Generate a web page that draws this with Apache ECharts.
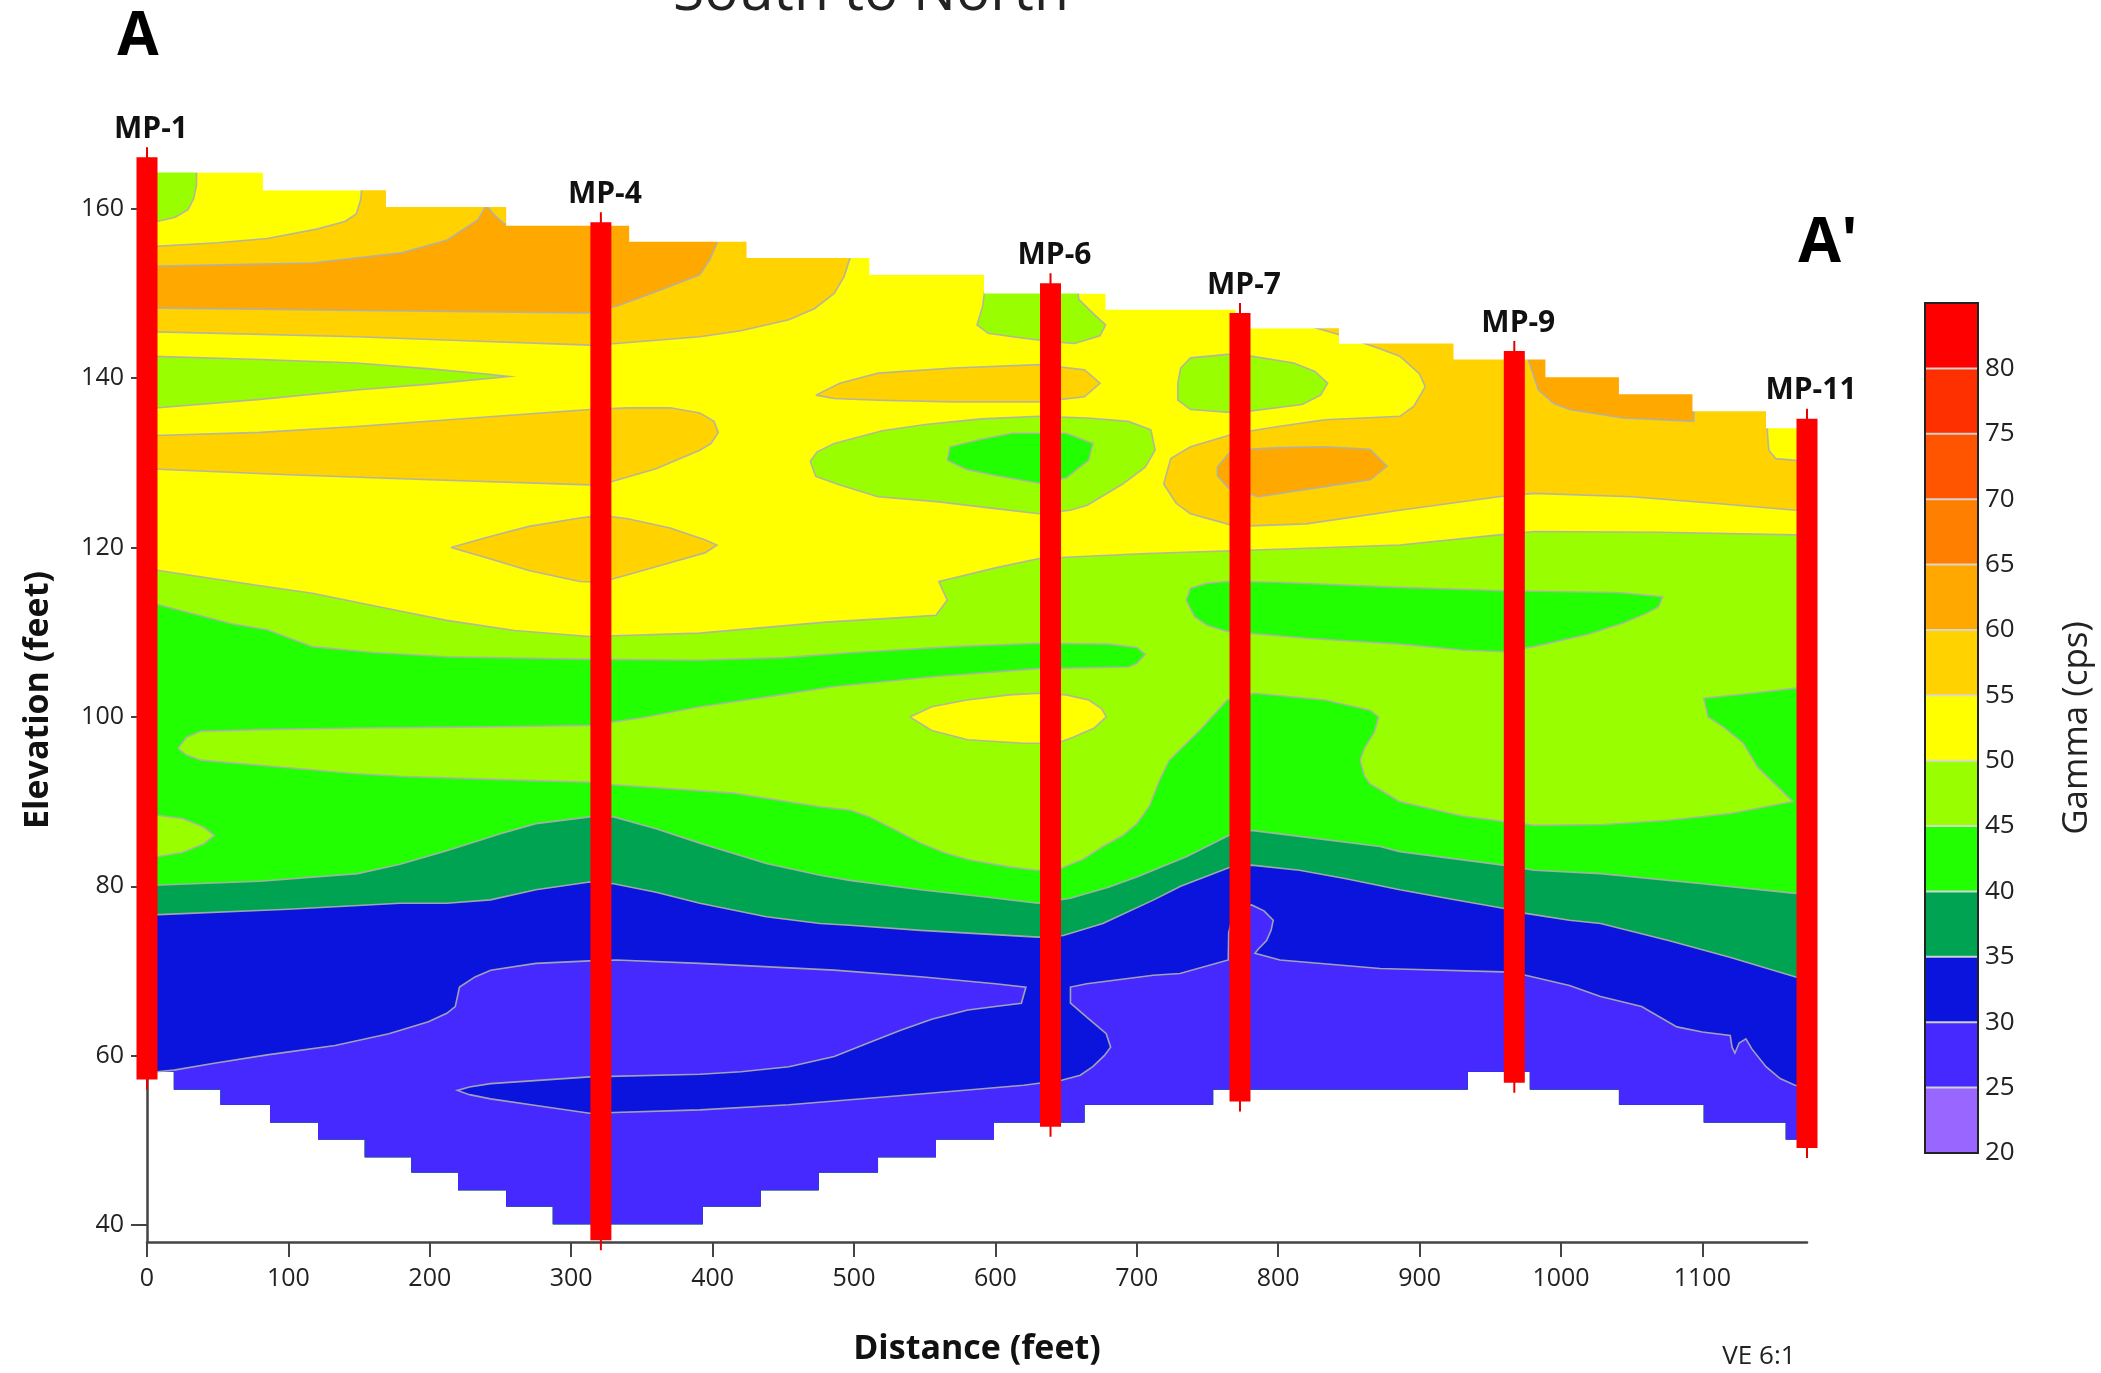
<!DOCTYPE html>
<html>
<head>
<meta charset="utf-8">
<title>Gamma cross-section A-A'</title>
<script src="https://cdn.jsdelivr.net/npm/echarts@6.0.0/dist/echarts.min.js"></script>
<style>
  html, body { margin: 0; padding: 0; background: #fff; }
  #chart { width: 2101px; height: 1373px; }
</style>
</head>
<body>
<div id="chart"></div>
<script>
// ---- axis ticks / legend ----
const xTicks = [0, 100, 200, 300, 400, 500, 600, 700, 800, 900, 1000, 1100];
const yTicks = [40, 60, 80, 100, 120, 140, 160];
const legendLevels = [20, 25, 30, 35, 40, 45, 50, 55, 60, 65, 70, 75, 80];
const bandColors = ['#9966ff', '#4529ff', '#0a14dc', '#00a352', '#22ff00', '#99ff00',
  '#ffff00', '#ffd200', '#ffa800', '#ff7f00', '#ff5500', '#ff3000', '#ff0000'];

// ---- monitoring points (distance ft, top / bottom elevation ft) ----
const wellNames = ['MP-1', 'MP-4', 'MP-6', 'MP-7', 'MP-9', 'MP-11'];
const wellX = [0, 321, 639, 773, 967, 1174];
const wellTop = [166.1, 158.4, 151.2, 147.7, 143.2, 135.2];
const wellBottom = [57.2, 38.2, 51.6, 54.6, 56.8, 49.1];

// ---- gridded section outline (stair steps) ----
const topEdges = [0, 82, 169, 254, 341, 424, 511, 592, 678, 770, 843, 924, 989, 1041, 1093, 1145, 1174];
const topLevels = [164.3, 162.2, 160.2, 158.0, 156.1, 154.2, 152.2, 150.0, 148.1, 145.9, 144.1, 142.2, 140.1, 138.1, 136.1, 134.1];
const bottomEdges = [0, 19, 52, 87, 121, 154, 187, 220, 254, 287, 393, 434, 475, 517, 558, 599, 663, 754, 934, 978, 1041, 1101, 1159, 1174];
const bottomLevels = [58.1, 56.0, 54.2, 52.1, 50.1, 48.0, 46.2, 44.1, 42.2, 40.1, 42.2, 44.1, 46.2, 48.0, 50.1, 52.1, 54.2, 56.0, 58.1, 56.0, 54.2, 52.1, 50.1];

// ---- contour lines [distance, elevation] ----
// upper (yellow / gold / orange) zone
const tlGreen = [[0,158.3],[7,158.5],[20,159.0],[29,159.9],[33,161.2],[35,162.8],[35,166]];
const goldUpperEdge = [[0,155.5],[50,156.0],[85,156.5],[120,157.6],[140,158.5],[148,159.4],[151,161.0],[152,162.6]];
const goldLowerEdge = [[498,154.6],[493,152.0],[486,150.0],[472,148.2],[454,146.9],[420,145.6],[391,144.9],[332,144.1],[313,143.9],[230,144.4],[148,144.9],[0,145.5]];
const orangeUpperEdge = [[0,153.2],[117,153.6],[180,154.8],[212,156.3],[234,158.7],[240,160.4],[246,159.2],[253,158.2],[254,158.2]];
const orangeLowerEdge = [[404,156.3],[398,154.0],[391,152.2],[360,150.2],[332,148.5],[312,147.7],[150,148.0],[0,148.3]];
const lens140 = [[0,142.6],[80,142.2],[148,141.8],[200,141.1],[240,140.5],[256,140.2],[200,139.3],[148,138.6],[80,137.5],[0,136.4]];
const goldBand130 = [[0,133.2],[80,133.6],[148,134.3],[230,135.3],[313,136.3],[340,136.5],[370,136.5],[391,135.9],[401,134.9],[404,133.6],[399,132.3],[391,131.5],[360,129.3],[329,127.8],[313,127.4],[200,128.0],[100,128.6],[0,129.3]];
const gold120 = [[215,120.0],[240,121.2],[270,122.5],[306,123.5],[321,123.8],[340,123.4],[370,122.3],[395,120.9],[403,120.3],[395,119.4],[370,118.2],[340,116.8],[321,115.9],[306,116.0],[270,117.3],[240,118.8]];
const gold140 = [[473,138.0],[490,139.4],[517,140.6],[570,141.2],[631,141.6],[663,141.0],[674,139.4],[663,137.8],[631,137.2],[570,137.2],[517,137.4],[486,137.6]];
const gyTopEdge = [[593,151],[591,148.5],[587,146.3],[595,145.3],[612,144.9],[640,144.3],[656,144.1],[674,145.0],[678,146.3],[670,147.5],[659,149.3],[658,151]];
const gy130 = [[469,130.2],[474,131.3],[486,132.3],[520,133.8],[549,134.5],[590,135.2],[631,135.5],[665,135.3],[694,134.9],[710,133.9],[713,131.5],[706,129.5],[690,127.5],[665,125.0],[653,124.4],[631,124.0],[600,124.6],[560,125.4],[517,126.0],[490,127.4],[473,128.4]];
const g130 = [[566,130.3],[568,131.9],[590,132.8],[612,133.5],[650,133.5],[669,132.3],[666,130.3],[650,128.2],[631,127.6],[600,128.5],[580,129.2]];
const goldREdge = [[805,147],[842,145.2],[870,143.6],[886,142.6],[900,140.5],[904,139.0],[896,136.7],[886,135.5],[860,135.3],[833,135.1],[800,134.3],[770,133.5],[738,131.9],[724,130.5],[719,127.5],[728,125.2],[738,124.0],[770,122.5],[820,122.8],[886,124.4],[956,126.0],[981,126.4],[1050,126.0],[1110,125.2],[1166,124.4],[1174,124.4]];
const orange130 = [[757,129.5],[767,131.5],[800,131.8],[833,131.9],[865,131.6],[877,129.6],[865,128.0],[833,127.2],[786,126.0],[765,127.0],[757,128.5]];
const orangeTREdge = [[975,143],[977.7,141.8],[984,138.6],[995,137.0],[1006,136.3],[1044,135.3],[1094,134.9],[1094,138.3]];
const yellowMP11Edge = [[1146,136],[1146,133.5],[1147,131.5],[1152,130.5],[1166,130.3],[1174,130.3]];
const gy140 = [[729,139.4],[731,141.2],[738,142.4],[770,142.9],[811,141.8],[826,140.8],[835,139.4],[830,138.0],[817,136.9],[770,135.9],[738,136.3],[729,137.4]];

// middle (green) zone
const b1 = [[0,117.5],[40,116.5],[80,115.5],[117,114.6],[170,112.8],[212,111.4],[260,110.2],[313,109.5],[391,109.9],[480,111.2],[530,111.7],[558,112.0],[566,113.8],[560,116.0],[600,117.6],[631,118.7],[707,119.3],[800,119.8],[886,120.3],[956,121.5],[981,121.9],[1070,121.8],[1166,121.5],[1174,121.5]];
const b2 = [[0,113.6],[30,112.3],[60,111.0],[85,110.3],[117,108.3],[160,107.6],[212,107.1],[313,106.8],[391,106.7],[450,107.0],[500,107.6],[570,108.3],[631,108.7],[680,108.6],[700,108.2],[706,107.4]];
const l1Top = [[700,106.3],[694,105.9],[631,105.7],[560,104.8],[486,103.6],[440,102.4],[391,101.2],[350,99.9],[313,99.0],[230,98.8],[150,98.7],[80,98.5],[38,98.3],[28,97.6],[22,96.3]];
const b2Low = [[22,96.3],[28,95.5],[38,94.9],[100,94.0],[148,93.3],[179,93.0],[250,92.6],[313,92.3],[330,92.0],[415,91.0],[476,89.4],[497,89.0],[511,88.2],[530,86.6],[547,85.1],[565,83.9],[582,83.1],[610,82.3],[629,81.9],[646,82.1],[662,83.2],[676,84.7],[690,86.0],[700,87.4],[709,89.5],[716,92.5],[723,94.9],[745,98.5],[764,102.0],[783,102.8],[833,102.0],[865,100.8],[871,100.0],[868,98.2],[861,96.3],[858,94.9],[861,93.0],[865,92.1],[875,91.1],[886,90.0],[930,88.3],[981,87.2],[1030,87.3],[1076,87.8],[1120,88.6],[1164,90.0],[1139,94.1],[1129,96.9],[1115,98.8],[1104,100.0],[1101,102.2],[1130,102.7],[1166,103.4],[1174,103.5]];
const green112 = [[735,113.8],[738,115.2],[750,115.8],[764,116.0],[800,115.9],[886,115.3],[960,114.9],[1040,114.7],[1072,114.2],[1069,113.0],[1060,112.2],[1044,111.1],[1020,109.8],[981,108.3],[959,107.7],[930,107.9],[886,108.6],[820,109.3],[764,110.1],[750,110.8],[741,111.8]];
const gy86 = [[0,88.5],[7,88.4],[25,88.0],[40,87.0],[47.5,86.0],[40,85.0],[25,84.0],[7,83.5],[0,83.4]];
const yellow100 = [[539.5,100.0],[555,101.2],[580,102.0],[610,102.6],[631,102.8],[650,102.6],[666,102.0],[675,101.0],[678.4,100.0],[670,98.7],[655,97.6],[643.7,96.9],[620,96.9],[580.5,97.3],[555,98.4]];

// lower (sea green / blue / violet) zone
const b3 = [[0,80.1],[80,80.6],[149,81.5],[179,82.6],[212,84.2],[250,86.2],[275,87.4],[313,88.2],[330,88.2],[360,86.8],[391,85.1],[438,82.7],[476,81.3],[497,80.7],[547,79.6],[590,78.8],[630,78.0],[653,78.6],[680,79.9],[700,81.1],[735,83.5],[765,86.0],[781,86.6],[815,85.9],[872,84.7],[886,84.1],[959,82.5],[981,81.9],[1028,81.5],[1100,80.3],[1164,79.2],[1174,79.1]];
const b4 = [[0,76.6],[100,77.3],[179,78.0],[212,78.0],[243,78.4],[275,79.6],[313,80.5],[330,80.3],[360,79.3],[391,78.0],[438,76.4],[476,75.6],[497,75.4],[547,74.8],[630,74.0],[648,74.2],[676,75.6],[712,78.4],[731,80.0],[765,82.2],[781,82.5],[815,81.9],[848,80.9],[886,79.6],[919,78.6],[959,77.4],[975,76.8],[1006,76.0],[1028,75.6],[1076,73.6],[1120,71.6],[1166,69.3],[1174,69.2]];
const b5 = [[0,58.0],[7,58.1],[19,58.3],[47.5,59.1],[85,60.1],[133,61.2],[171,62.6],[199,64.0],[212,65.0],[218,65.8],[221,68.1],[232,69.3],[243,70.1],[275,70.9],[313,71.2],[332,71.3],[391,70.9],[486,70.1],[549,69.3],[600,68.5],[621.6,68.1],[618.4,66.2],[600,65.8],[580.5,65.4],[555,64.3],[533,63.0],[510,61.5],[486,59.9],[454,58.7],[420,58.1],[391,57.8],[313,57.5],[243,56.7],[228,56.3],[219.6,55.9],[228,55.4],[243,54.9],[280,54.0],[313,53.2],[391,53.6],[454,54.2],[549,55.5],[620,56.5],[646.8,57.1],[660,57.7],[668.9,58.7],[677,60.0],[681.5,61.0],[678.4,62.6],[665,64.5],[653.1,66.2],[653.1,68.1],[664.6,68.5],[711.7,69.5],[730.5,69.7],[764.7,71.3],[765,74.5],[768,76.6],[775,77.6],[781.2,77.8],[790,77.1],[796.5,76.0],[795,74.8],[791.8,73.6],[786,72.6],[783.6,72.1],[801.3,71.3],[872,70.3],[959,69.9],[975,69.5],[1006,68.3],[1028,67.0],[1057,65.8],[1082,63.4],[1100,62.8],[1119.7,62.4],[1121,61.0],[1123,60.3],[1126,61.5],[1130.8,62.0],[1135,60.8],[1145,58.7],[1155,57.3],[1165.5,56.5],[1174,56.3]];

// ---- geometry built from the arrays above ----
function stairs(edges, levels) {
  const pts = [];
  levels.forEach((v, i) => { pts.push([edges[i], v], [edges[i + 1], v]); });
  return pts;
}
const topLine = stairs(topEdges, topLevels);
const bottomBack = stairs(bottomEdges, bottomLevels).reverse();
const closed = (pts) => pts.concat([pts[0]]);
const above = 170;

const fills = [
  { band: 50, pts: topLine.concat(bottomBack) },
  { band: 55, pts: goldUpperEdge.concat([[152, above], [498, above]], goldLowerEdge) },
  { band: 60, pts: orangeUpperEdge.concat([[255, above], [404, above]], orangeLowerEdge) },
  { band: 45, pts: tlGreen.concat([[0, above]]) },
  { band: 45, pts: lens140 },
  { band: 55, pts: goldBand130 },
  { band: 55, pts: gold120 },
  { band: 55, pts: gold140 },
  { band: 45, pts: gyTopEdge },
  { band: 45, pts: gy130 },
  { band: 40, pts: g130 },
  { band: 55, pts: goldREdge.concat([[1174, above], [805, above]]) },
  { band: 60, pts: orange130 },
  { band: 60, pts: orangeTREdge.concat([[1094, above], [975, above]]) },
  { band: 50, pts: yellowMP11Edge.concat([[1174, 136]]) },
  { band: 45, pts: gy140 },
  { band: 45, pts: b1.concat(bottomBack) },
  { band: 40, pts: green112 },
  { band: 40, pts: b2.concat(l1Top, b2Low.slice(1), bottomBack) },
  { band: 45, pts: gy86 },
  { band: 50, pts: yellow100 },
  { band: 35, pts: b3.concat(bottomBack) },
  { band: 30, pts: b4.concat(bottomBack) },
  { band: 25, pts: b5.concat(bottomBack) }
];

const contours = [
  tlGreen, goldUpperEdge, goldLowerEdge, orangeUpperEdge, orangeLowerEdge,
  closed(lens140), closed(goldBand130), closed(gold120), closed(gold140), gyTopEdge,
  closed(gy130), closed(g130), goldREdge, closed(orange130), orangeTREdge, yellowMP11Edge,
  closed(gy140), b1, b2.concat(l1Top), b2Low, closed(green112), closed(gy86),
  closed(yellow100), b3, b4, b5
];

// white cover above the ground surface (reaches higher than any fill)
const mask = topLine.concat([[1174, above + 8], [0, above + 8]]);

const colorOf = (band) => bandColors[legendLevels.indexOf(band)];

const chart = echarts.init(document.getElementById('chart'));

const option = {
  animation: false,
  backgroundColor: '#fff',
  textStyle: { fontFamily: '"Open Sans", "DejaVu Sans", sans-serif' },
  graphic: [
    { type: 'text', x: 871, y: -6, z: 10, style: { text: 'South to North', font: '57px "Open Sans"', fill: '#222', align: 'center', verticalAlign: 'middle' } },
    { type: 'text', x: 138, y: 38, z: 10, style: { text: 'A', font: 'bold 60px "Open Sans"', fill: '#000', align: 'center', verticalAlign: 'middle' } },
    { type: 'text', x: 1828, y: 244, z: 10, style: { text: "A'", font: 'bold 62px "Open Sans"', fill: '#000', align: 'center', verticalAlign: 'middle' } },
    { type: 'text', x: 1759, y: 1357, z: 10, style: { text: 'VE 6:1', font: '26px "Open Sans"', fill: '#222', align: 'center', verticalAlign: 'middle' } }
  ],
  grid: [
    { left: 147, top: 158, width: 1660, height: 1084, outerBoundsMode: 'none' },
    { left: 1925, top: 303, width: 53, height: 850, outerBoundsMode: 'none' }
  ],
  xAxis: [
    {
      type: 'value', gridIndex: 0, min: 0, max: 1174, z: 3,
      axisLine: { onZero: false, lineStyle: { color: '#444', width: 2.5 } },
      axisTick: { show: true, length: 15, customValues: xTicks, lineStyle: { color: '#444', width: 2 } },
      axisLabel: { customValues: xTicks, fontSize: 25, color: '#222', margin: 24, formatter: (v) => String(v) },
      splitLine: { show: false },
      name: 'Distance (feet)', nameLocation: 'middle', nameGap: 90,
      nameTextStyle: { fontSize: 34, fontWeight: 'bold', color: '#111' }
    },
    { type: 'value', gridIndex: 1, min: 0, max: 1, show: false }
  ],
  yAxis: [
    {
      type: 'value', gridIndex: 0, min: 38, max: 166, z: 3,
      axisLine: { show: true, onZero: false, lineStyle: { color: '#444', width: 2.5 } },
      axisTick: { show: true, length: 16, customValues: yTicks, lineStyle: { color: '#444', width: 2 } },
      axisLabel: { customValues: yTicks, fontSize: 25, color: '#222', margin: 23, formatter: (v) => String(v) },
      splitLine: { show: false },
      name: 'Elevation (feet)', nameLocation: 'middle', nameGap: 92,
      nameTextStyle: { fontSize: 34, fontWeight: 'bold', color: '#111' }
    },
    {
      type: 'value', gridIndex: 1, min: 20, max: 85, interval: 5, position: 'right',
      axisLine: { show: false }, axisTick: { show: false }, splitLine: { show: false },
      axisLabel: { margin: 7, fontSize: 26, color: '#222', formatter: (v) => (v > 80 ? '' : String(v)) },
      name: 'Gamma (cps)', nameLocation: 'middle', nameGap: 82,
      nameTextStyle: { fontSize: 35, color: '#222' }
    }
  ],
  series: [
    {
      type: 'custom', name: 'bands', xAxisIndex: 0, yAxisIndex: 0, z: 1, silent: true,
      data: fills.map((f) => f.pts[0]),
      renderItem: (params, api) => {
        const f = fills[params.dataIndex];
        return { type: 'polygon', shape: { points: f.pts.map((p) => api.coord(p)) }, style: { fill: colorOf(f.band) } };
      }
    },
    {
      type: 'custom', name: 'contours', xAxisIndex: 0, yAxisIndex: 0, z: 1, silent: true,
      data: contours.map((c) => c[0]),
      renderItem: (params, api) => {
        const c = contours[params.dataIndex];
        return { type: 'polyline', shape: { points: c.map((p) => api.coord(p)) }, style: { fill: 'none', stroke: 'rgba(175,175,175,0.9)', lineWidth: 1.6 } };
      }
    },
    {
      type: 'custom', name: 'outline', xAxisIndex: 0, yAxisIndex: 0, z: 1, silent: true,
      data: [mask[0]],
      renderItem: (params, api) => ({ type: 'polygon', shape: { points: mask.map((p) => api.coord(p)) }, style: { fill: '#fff' } })
    },
    {
      type: 'custom', name: 'wells', xAxisIndex: 0, yAxisIndex: 0, z: 4, silent: true,
      data: wellX.map((x, i) => [x, wellTop[i], wellBottom[i]]),
      renderItem: (params, api) => {
        const i = params.dataIndex;
        const top = api.coord([wellX[i], wellTop[i]]);
        const bot = api.coord([wellX[i], wellBottom[i]]);
        const w = 21;
        return {
          type: 'group',
          children: [
            { type: 'line', shape: { x1: top[0], y1: top[1] - 10, x2: top[0], y2: bot[1] + 10 }, style: { stroke: '#e60000', lineWidth: 2 } },
            { type: 'rect', shape: { x: top[0] - w / 2, y: top[1], width: w, height: bot[1] - top[1] }, style: { fill: '#ff0000' } },
            { type: 'text', x: top[0] + 4, y: top[1] - 28, style: { text: wellNames[i], font: 'bold 30px "Open Sans"', fill: '#111', align: 'center', verticalAlign: 'middle' } }
          ]
        };
      }
    },
    {
      type: 'custom', name: 'legend', xAxisIndex: 1, yAxisIndex: 1, z: 2, silent: true,
      data: legendLevels.map((v) => [0.5, v]),
      renderItem: (params, api) => {
        const lo = legendLevels[params.dataIndex];
        const p0 = api.coord([0, lo + 5]);
        const p1 = api.coord([1, lo]);
        const children = [{ type: 'rect', shape: { x: p0[0], y: p0[1], width: p1[0] - p0[0], height: p1[1] - p0[1] }, style: { fill: bandColors[params.dataIndex] } }];
        if (lo > 20) {
          children.push({ type: 'line', shape: { x1: p0[0], y1: p1[1], x2: p1[0], y2: p1[1] }, style: { stroke: 'rgba(215,215,215,0.95)', lineWidth: 2 } });
        }
        return { type: 'group', children };
      }
    },
    {
      type: 'custom', name: 'legendFrame', xAxisIndex: 1, yAxisIndex: 1, z: 3, silent: true,
      data: [[0.5, 50]],
      renderItem: (params, api) => {
        const p0 = api.coord([0, 85]);
        const p1 = api.coord([1, 20]);
        return { type: 'rect', shape: { x: p0[0], y: p0[1], width: p1[0] - p0[0], height: p1[1] - p0[1] }, style: { fill: 'none', stroke: '#222', lineWidth: 2 } };
      }
    }
  ]
};

chart.setOption(option);

window.addEventListener('resize', () => chart.resize());
</script>
</body>
</html>
